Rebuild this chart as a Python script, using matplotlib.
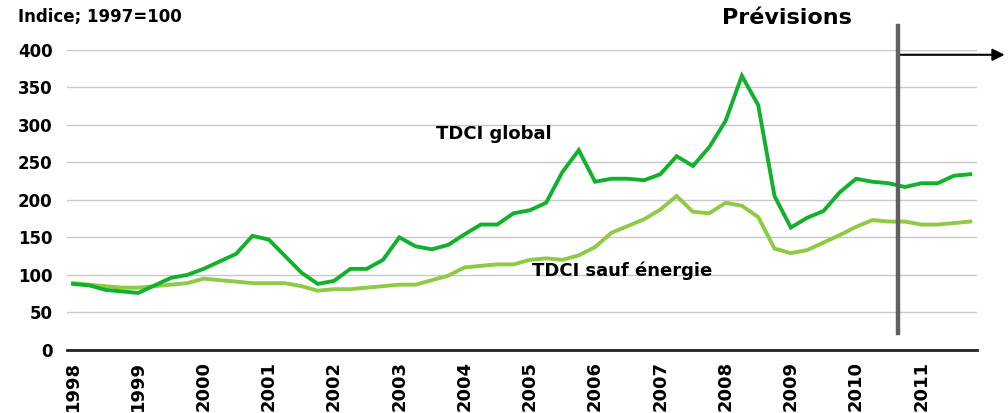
import numpy as np
import matplotlib
matplotlib.use('Agg')
import matplotlib.pyplot as plt

plt.rcParams['font.family'] = ['DejaVu Sans']

years = list(range(1998, 2012))
# trimestres 1998T1 .. 2011T4
dates = [y + q / 4 for y in years for q in range(4)]

tdci_global = [88, 86, 80, 78, 76, 86, 96, 100, 108, 118, 128, 152,
               147, 125, 103, 88, 92, 108, 108, 120, 150, 138, 134, 140,
               154, 167, 167, 182, 186, 196, 237, 266, 224, 228, 228, 226,
               234, 258, 245, 270, 305, 365, 326, 205, 163, 176, 185, 210,
               228, 224, 222, 217, 222, 222, 232, 234]
tdci_hors_energie = [89, 87, 85, 83, 83, 85, 87, 89, 95, 93, 91, 89,
                     89, 89, 85, 79, 81, 81, 83, 85, 87, 87, 93, 99,
                     110, 112, 114, 114, 120, 122, 120, 126, 137, 156, 165, 174,
                     187, 205, 184, 182, 196, 192, 177, 135, 129, 133, 143, 153,
                     164, 173, 171, 171, 167, 167, 169, 171]
debut_prev = 2010.65

fig = plt.figure(figsize=(10.08, 4.13), dpi=100)
ax = fig.add_axes([0.0665, 0.1525, 0.903, 0.7276])

ax.plot(dates, tdci_global, color='#12b12c', lw=2.8, solid_joinstyle='miter', zorder=3)
ax.plot(dates, tdci_hors_energie, color='#8fca45', lw=2.8, solid_joinstyle='miter', zorder=2)

ax.set_xlim(1997.908, 2011.857)
ax.set_ylim(0, 400)
ax.set_yticks(range(0, 401, 50))
ax.set_xticks(years)
ax.set_xticklabels([str(y) for y in years], rotation=90, fontsize=13, fontweight='bold',
                   va='top')
for lab in ax.get_yticklabels():
    lab.set_fontsize(12)
    lab.set_fontweight('bold')
ax.tick_params(axis='x', length=0, pad=8)
ax.tick_params(axis='y', length=0, pad=10.5)

ax.grid(axis='y', color='#c8c8c8', lw=1)
ax.set_axisbelow(True)
for s in ['left', 'right', 'top']:
    ax.spines[s].set_visible(False)
ax.spines['bottom'].set_color('#222222')
ax.spines['bottom'].set_linewidth(2)

# ligne des prévisions
ax.plot([debut_prev, debut_prev], [23, 431], color='#606060', lw=3.2, clip_on=False, zorder=4)
ax.annotate('', xy=(2012.32, 393), xytext=(debut_prev - 0.05, 393),
            arrowprops=dict(arrowstyle='-|>', color='black', lw=1.5, mutation_scale=18),
            annotation_clip=False)

ax.text(2004.45, 287, 'TDCI global', fontsize=13, fontweight='bold', ha='center', va='center')
ax.text(2006.415, 105, 'TDCI sauf énergie', fontsize=13, fontweight='bold',
        ha='center', va='center')
fig.text(0.018, 0.958, 'Indice; 1997=100', fontsize=12, fontweight='bold', va='center')
fig.text(0.781, 0.956, 'Prévisions', fontsize=16, fontweight='bold', ha='center', va='center')

fig.savefig('out.png', dpi=100)
